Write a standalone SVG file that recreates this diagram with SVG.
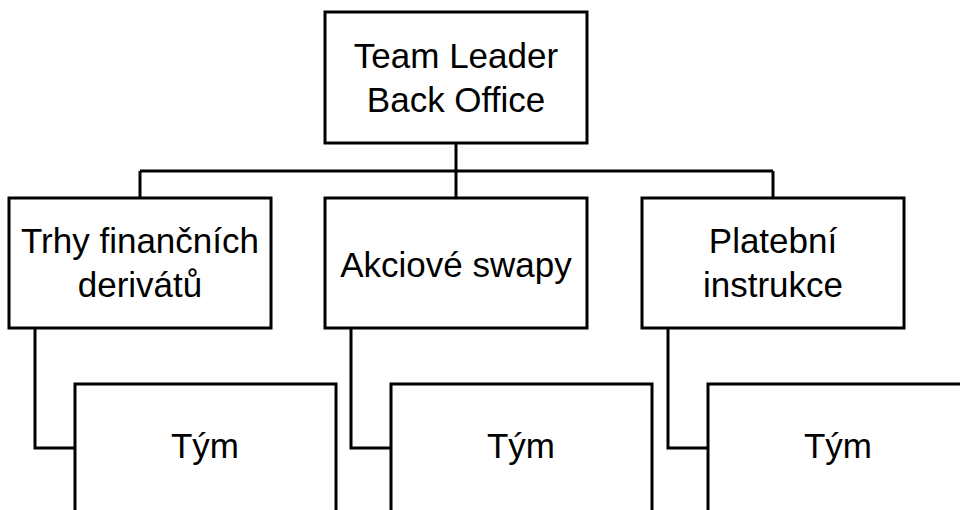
<svg xmlns="http://www.w3.org/2000/svg" width="960" height="510" viewBox="0 0 960 510">
<style>
.box{fill:#fff;stroke:#000;stroke-width:3}
.ln{fill:none;stroke:#000;stroke-width:3}
text{font-family:"Liberation Sans",Arial,sans-serif;font-size:35px;fill:#000;text-anchor:middle}
</style>
<rect width="960" height="510" fill="#fff"/>
<g id="connectors">
<path class="ln" d="M456 143V198"/>
<path class="ln" d="M140 171H773M140 171V198M773 171V198"/>
<path class="ln" d="M35 328V448H75"/>
<path class="ln" d="M351 328V448H391"/>
<path class="ln" d="M668 328V448H708"/>
</g>
<g id="n-leader"><rect class="box" x="325" y="12" width="262" height="131"/><text x="456" y="68">Team Leader</text><text x="456" y="112">Back Office</text></g>
<g id="n-trhy"><rect class="box" x="9" y="198" width="262" height="130"/><text x="140" y="253">Trhy finančních</text><text x="140" y="297">derivátů</text></g>
<g id="n-akcie"><rect class="box" x="325" y="198" width="262" height="130"/><text x="456" y="277">Akciové swapy</text></g>
<g id="n-platby"><rect class="box" x="642" y="198" width="262" height="130"/><text x="773" y="253">Platební</text><text x="773" y="297">instrukce</text></g>
<g id="n-tym1"><rect class="box" x="75" y="384" width="261" height="140"/><text x="205" y="458">Tým</text></g>
<g id="n-tym2"><rect class="box" x="391" y="384" width="261" height="140"/><text x="521" y="458">Tým</text></g>
<g id="n-tym3"><rect class="box" x="708" y="384" width="261" height="140"/><text x="838" y="458">Tým</text></g>
</svg>
